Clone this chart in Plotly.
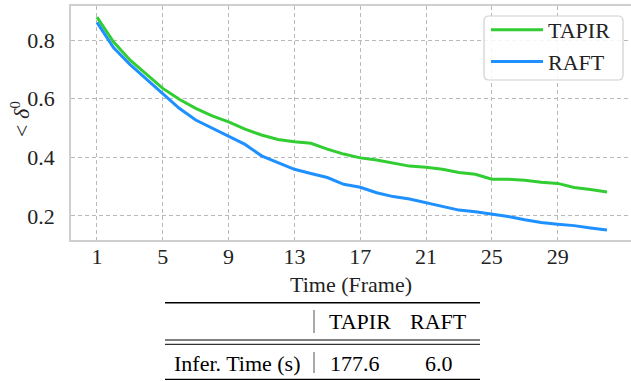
import plotly.graph_objects as go

# ---- data ----
frames = list(range(1, 33))
tapir = [0.878, 0.794, 0.732, 0.684, 0.635, 0.598, 0.567, 0.541,
         0.521, 0.496, 0.476, 0.461, 0.453, 0.448, 0.428, 0.411,
         0.398, 0.391, 0.380, 0.370, 0.366, 0.359, 0.348, 0.342,
         0.325, 0.325, 0.322, 0.315, 0.311, 0.297, 0.290, 0.282]
raft = [0.860, 0.774, 0.717, 0.667, 0.618, 0.567, 0.527, 0.499,
        0.470, 0.444, 0.405, 0.382, 0.359, 0.345, 0.331, 0.308,
        0.298, 0.279, 0.266, 0.258, 0.245, 0.234, 0.220, 0.214,
        0.206, 0.198, 0.187, 0.178, 0.172, 0.167, 0.159, 0.152]
x_ticks = [1, 5, 9, 13, 17, 21, 25, 29]
y_ticks = [0.2, 0.4, 0.6, 0.8]

table_methods = ["TAPIR", "RAFT"]
table_row_label = "Infer. Time (s)"
infer_times = ["177.6", "6.0"]

W, H = 631, 381
L, R, T, B = 71, 0, 6, 141
PH = H - T - B  # plot height in px
PW = W - L - R

def py(ypix):
    return (H - B - ypix) / PH

def px(xpix):
    return (xpix - L) / PW

FONT = "Liberation Serif"
FS = 22
GRID = "#b9b9b9"
SPINE = "#cfcfcf"

fig = go.Figure()
fig.add_trace(go.Scatter(x=frames, y=tapir, mode="lines", name="TAPIR",
                         line=dict(color="#32CD32", width=3)))
fig.add_trace(go.Scatter(x=frames, y=raft, mode="lines", name="RAFT",
                         line=dict(color="#1E90FF", width=3)))

fig.update_layout(
    width=W, height=H,
    margin=dict(l=L, r=R, t=T, b=B, pad=0, autoexpand=False),
    paper_bgcolor="white", plot_bgcolor="white",
    font=dict(family=FONT, size=FS, color="#222222"),
    showlegend=True,
    legend=dict(x=px(486), y=py(9), xanchor="left", yanchor="top",
                bgcolor="rgba(0,0,0,0)", borderwidth=0, itemwidth=52,
                font=dict(family=FONT, size=FS), tracegroupgap=0),
)
# legend frame (rounded box), pixel corners converted to paper coords
lx0, lx1, ly0, ly1, r = 484, 623, 16, 80, 5
pts = [(lx0 + r, ly0), (lx1 - r, ly0), (lx1, ly0), (lx1, ly0 + r), (lx1, ly1 - r), (lx1, ly1),
       (lx1 - r, ly1), (lx0 + r, ly1), (lx0, ly1), (lx0, ly1 - r), (lx0, ly0 + r), (lx0, ly0)]
P = [(px(a), py(b)) for a, b in pts]
f = lambda q: f"{q[0]:.5f},{q[1]:.5f}"
ppath = (f"M{f(P[0])} L{f(P[1])} Q{f(P[2])} {f(P[3])} L{f(P[4])} Q{f(P[5])} {f(P[6])} "
         f"L{f(P[7])} Q{f(P[8])} {f(P[9])} L{f(P[10])} Q{f(P[11])} {f(P[0])} Z")
fig.add_shape(type="path", path=ppath, xref="paper", yref="paper", layer="above",
              fillcolor="rgba(255,255,255,0.85)", line=dict(color="#d0d0d0", width=1.2))

fig.update_xaxes(range=[-0.58, 33.46], tickvals=x_ticks, automargin=False,
                 tickfont=dict(family=FONT, size=FS),
                 showgrid=True, gridcolor=GRID, griddash="4px,3px", gridwidth=1,
                 showline=True, linecolor=SPINE, linewidth=1.5, mirror=True,
                 zeroline=False, ticks="", ticklabelstandoff=-4)
fig.update_yaxes(range=[0.118, 0.916], tickvals=y_ticks, automargin=False,
                 tickformat=".1f", tickfont=dict(family=FONT, size=FS),
                 showgrid=True, gridcolor=GRID, griddash="4px,3px", gridwidth=1,
                 showline=True, linecolor=SPINE, linewidth=1.5, mirror=True,
                 zeroline=False, ticks="", ticklabelstandoff=10)

# axis titles
fig.add_annotation(text="Time (Frame)", xref="paper", yref="paper",
                   x=px(351), y=py(284), showarrow=False,
                   xanchor="center", yanchor="middle", font=dict(family=FONT, size=FS))
fig.add_annotation(text="&lt; <i>δ</i><sup>0</sup>", xref="paper", yref="paper",
                   x=px(20), y=py(119), showarrow=False, textangle=-90,
                   xanchor="center", yanchor="middle", font=dict(family=FONT, size=FS))

# table
x0t, x1t = px(165), px(480)
for ypix, w in [(302.7, 1.6), (340, 1), (344.3, 1), (379.3, 1.2)]:
    fig.add_shape(type="line", xref="paper", yref="paper",
                  x0=x0t, x1=x1t, y0=py(ypix), y1=py(ypix),
                  line=dict(color="black", width=w))
for (ya, yb) in [(310, 333), (352, 373)]:
    fig.add_shape(type="line", xref="paper", yref="paper",
                  x0=px(314), x1=px(314), y0=py(ya), y1=py(yb),
                  line=dict(color="#555555", width=1))
for cx, name in zip([360, 438], table_methods):
    fig.add_annotation(text=name, xref="paper", yref="paper", x=px(cx), y=py(321),
                       showarrow=False, xanchor="center", yanchor="middle",
                       font=dict(family=FONT, size=FS, color="black"))
for cx, val in zip([355, 438.5], infer_times):
    fig.add_annotation(text=val, xref="paper", yref="paper", x=px(cx), y=py(363),
                       showarrow=False, xanchor="center", yanchor="middle",
                       font=dict(family=FONT, size=FS, color="black"))
fig.add_annotation(text=table_row_label, xref="paper", yref="paper", x=px(237), y=py(363),
                   showarrow=False, xanchor="center", yanchor="middle",
                   font=dict(family=FONT, size=FS, color="black"))

fig.write_html("out.html", config={"displayModeBar": False},
               post_script="document.body.style.margin='0';document.body.style.overflow='hidden';")
